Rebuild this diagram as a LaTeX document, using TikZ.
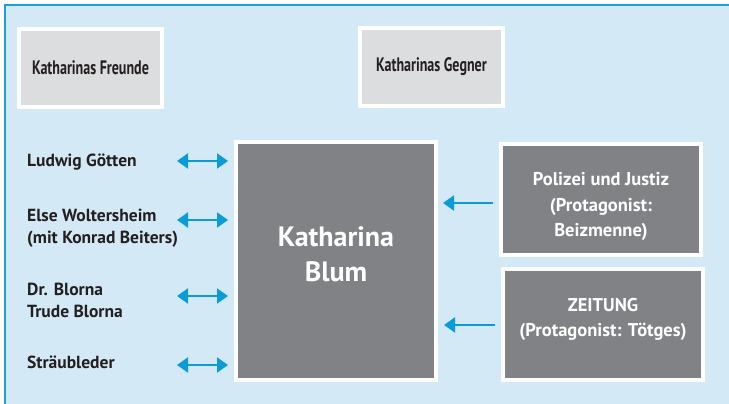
\documentclass[tikz,border=0pt]{standalone}
\usepackage{fontspec}
\setmainfont{PT Sans}
\newfontfamily\headfont[FakeStretch=0.72]{PT Sans}
\usetikzlibrary{arrows.meta}
\definecolor{bgblue}{HTML}{D3E9F6}
\definecolor{lineblue}{HTML}{1BA0DB}
\definecolor{arrowblue}{HTML}{0A9BD8}
\definecolor{lightgray}{HTML}{DCDDDE}
\definecolor{darkgray}{HTML}{808285}
\definecolor{txt}{HTML}{231F20}
\tikzset{
  box/.style={draw=white, line width=3.5pt, inner sep=0pt, align=center},
  headbox/.style={box, fill=lightgray, text=txt, font=\headfont\bfseries\fontsize{19.5}{22}\selectfont},
  darkbox/.style={box, fill=darkgray},
  boxtext/.style={align=center, inner sep=0pt, text=white, font=\bfseries\fontsize{18.5}{25.5}\selectfont},
  person/.style={anchor=west, align=left, text=txt, font=\bfseries\fontsize{17.5}{22}\selectfont, inner sep=0pt},
  dbl/.style={arrowblue, line width=2pt, {Triangle[width=15pt,length=11pt]}-{Triangle[width=15pt,length=11pt]}},
  sgl/.style={arrowblue, line width=2pt, -{Triangle[width=15pt,length=11pt]}},
}
\begin{document}
\begin{tikzpicture}[x=1pt,y=-1pt]
\useasboundingbox (0,0) rectangle (729,404);
\fill[bgblue] (4,5) rectangle (729,404);
\draw[lineblue, line width=2pt] (5,404) -- (5,5) -- (729,5);

\node[headbox, minimum width=143pt, minimum height=78pt] (fr) at (90.5,68) {Katharinas Freunde};
\node[headbox, minimum width=143pt, minimum height=78pt] (ge) at (431.5,67) {Katharinas Gegner};

\node[darkbox, minimum width=200pt, minimum height=238pt] (kb) at (336,261) {};
\node[boxtext, font=\bfseries\fontsize{28}{35}\selectfont] (kbt) at (336,254) {Katharina\\Blum};
\node[darkbox, minimum width=200pt, minimum height=111pt] (po) at (601,199.5) {};
\node[boxtext] (pot) at (601,206.5) {Polizei und Justiz\\(Protagonist:\\Beizmenne)};
\node[darkbox, minimum width=200pt, minimum height=111pt] (ze) at (603,324.5) {};
\node[boxtext] (zet) at (603,319.5) {ZEITUNG\\(Protagonist: Tötges)};

\node[person] (lg) at (27,162) {Ludwig Götten};
\node[person] (ew) at (27,228) {Else Woltersheim\\(mit Konrad Beiters)};
\node[person] (db) at (27,300.5) {Dr. Blorna\\Trude Blorna};
\node[person] (st) at (27,362.5) {Sträubleder};

\coordinate (l1) at (177,161);  \coordinate (r1) at (228,161);
\coordinate (l2) at (177,220);  \coordinate (r2) at (228,220);
\coordinate (l3) at (177,296);  \coordinate (r3) at (228,296);
\coordinate (l4) at (177,365);  \coordinate (r4) at (228,365);
\draw[dbl] (l1) -- (r1);
\draw[dbl] (l2) -- (r2);
\draw[dbl] (l3) -- (r3);
\draw[dbl] (l4) -- (r4);

\coordinate (p1) at (493,203); \coordinate (q1) at (443,203);
\coordinate (p2) at (495,325); \coordinate (q2) at (444,325);
\draw[sgl] (p1) -- (q1);
\draw[sgl] (p2) -- (q2);
\end{tikzpicture}
\end{document}
